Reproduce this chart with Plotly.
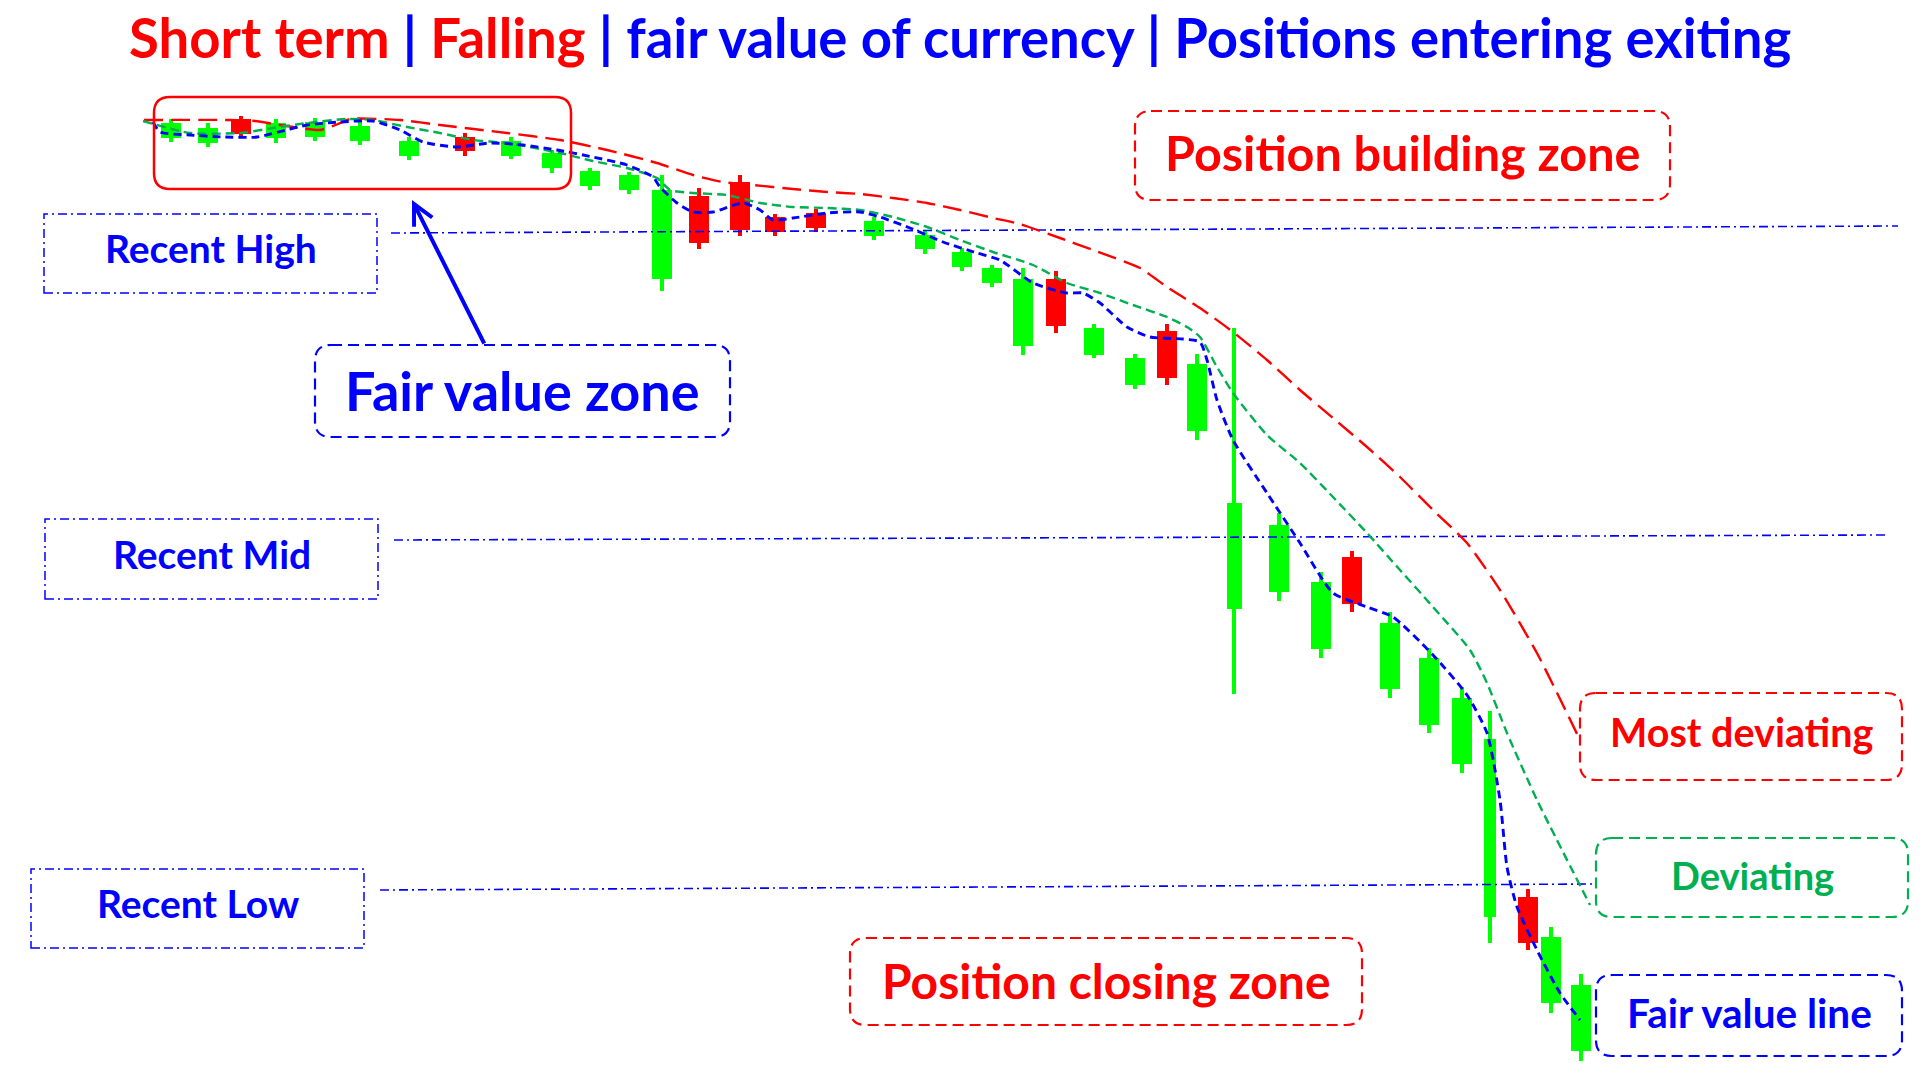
import plotly.graph_objects as go

# ---------------- data ----------------
# bar time positions and OHLC prices (arbitrary price units, higher = up)
t = [171, 208, 241, 276, 315, 360, 409, 465, 511, 552, 590, 629, 662, 699, 740, 775, 816, 874, 925,
     962, 992, 1023, 1056, 1094, 1135, 1167, 1197, 1234, 1279, 1321, 1352, 1390, 1429, 1462, 1490,
     1528, 1551, 1581]
open_ = [942, 937, 961, 942, 943, 939, 924, 943, 924, 912, 894, 890, 801, 884, 898, 863, 867, 844, 831,
         813, 797, 734, 801, 725, 695, 749, 649, 471, 488, 431, 523, 391, 355, 316, 163, 183, 77, 29]
high = [961, 957, 964, 961, 962, 958, 943, 947, 943, 930, 912, 908, 905, 892, 905, 866, 871, 863, 849,
        832, 815, 812, 809, 756, 726, 756, 726, 752, 567, 508, 529, 468, 432, 393, 369, 191, 153, 106]
low = [938, 933, 942, 937, 939, 935, 920, 924, 921, 907, 890, 886, 789, 831, 844, 844, 848, 840, 826,
       809, 793, 725, 747, 722, 691, 695, 640, 386, 479, 422, 468, 382, 347, 307, 137, 130, 67, 19]
close = [957, 952, 946, 957, 958, 954, 939, 929, 939, 927, 909, 905, 890, 837, 850, 848, 852, 859, 845,
         828, 812, 801, 754, 752, 722, 702, 716, 577, 555, 498, 476, 457, 422, 382, 341, 137, 143, 95]

# "Most deviating" average (red)
most_x = [144, 230, 255, 280, 300, 320, 338, 350, 400, 440, 507, 560, 607, 657, 693, 723, 753, 793, 827,
          860, 893, 927, 960, 993, 1020, 1060, 1093, 1140, 1167, 1200, 1233, 1267, 1300, 1333, 1367,
          1400, 1433, 1467, 1500, 1538, 1580]
most_y = [960, 960, 959, 955, 952, 950, 956, 961, 960, 955, 947, 940, 930, 917, 905, 898, 895, 891, 888,
          886, 882, 877, 870, 862, 856, 842, 830, 812, 793, 772, 748, 720, 690, 662, 633,
          603, 570, 537, 490, 425, 340]

# "Deviating" average (green)
dev_x = [143, 190, 240, 273, 307, 347, 373, 407, 440, 473, 507, 540, 560, 593, 627, 657, 670, 693, 727,
         760, 793, 827, 860, 893, 927, 960, 993, 1033, 1067, 1100, 1133, 1167, 1187, 1200, 1217, 1233,
         1267, 1300, 1333, 1367, 1400, 1433, 1470, 1487, 1507, 1537, 1590]
dev_y = [959, 947, 947, 952, 957, 961, 960, 953, 947, 940, 937, 931, 927, 919, 912, 902, 890, 887, 885,
         877, 873, 872, 870, 863, 853, 840, 828, 815, 797, 787, 775, 763, 753, 743, 713, 687,
         645, 617, 583, 547, 510, 473, 430, 397, 347, 280, 175]

# Fair value line (blue)
fair_x = [153, 160, 190, 223, 257, 290, 307, 340, 373, 400, 423, 457, 490, 523, 557, 593, 627, 653, 660,
          677, 693, 713, 743, 760, 773, 793, 827, 860, 880, 910, 943, 977, 1000, 1033, 1067, 1083, 1100,
          1127, 1150, 1183, 1200, 1207, 1217, 1233, 1267, 1300, 1333, 1367, 1393, 1433, 1467, 1487,
          1500, 1507, 1517, 1537, 1560, 1580]
fair_y = [958, 948, 945, 943, 943, 951, 955, 958, 959, 950, 938, 933, 937, 935, 930, 923, 915, 903, 893,
          877, 868, 868, 877, 870, 860, 862, 867, 868, 863, 852, 838, 827, 820, 797, 787, 787, 777,
          753, 743, 741, 738, 720, 680, 640, 587, 537, 487, 473, 463, 425, 385, 347,
          280, 213, 173, 130, 87, 60]

# Recent levels
high_x, high_y = [391, 1898], [847, 854]
mid_x, mid_y = [394, 1886], [540, 545]
low_x, low_y = [380, 1597], [190, 196]

# ---------------- styles ----------------
RED = "#FF0000"
LIME = "#00FF00"
GREEN = "#00B050"
BLUE = "#0000FF"
FONT = "Lato"

body_w = [20.0] * len(t)
body_w[27] = 15.0
body_w[34] = 12.5

inc = [c >= o for o, c in zip(open_, close)]
colors = [LIME if up else RED for up in inc]

fig = go.Figure()

# wicks
fig.add_trace(go.Bar(
    x=t, base=low, y=[h - l for h, l in zip(high, low)], width=3.5,
    marker=dict(color=colors, line=dict(width=0)), hoverinfo="skip"))
# bodies
fig.add_trace(go.Bar(
    x=t, base=[min(o, c) for o, c in zip(open_, close)],
    y=[abs(c - o) for o, c in zip(open_, close)], width=body_w,
    marker=dict(color=colors, line=dict(width=0)), hoverinfo="skip"))

# level lines
for lx, ly in [(high_x, high_y), (mid_x, mid_y), (low_x, low_y)]:
    fig.add_trace(go.Scatter(x=lx, y=ly, mode="lines",
                             line=dict(color=BLUE, width=1.6, dash="9px,4px,2px,4px"),
                             hoverinfo="skip"))

# averages
fig.add_trace(go.Scatter(x=most_x, y=most_y, mode="lines",
                         line=dict(color=RED, width=2.4, dash="19px,8px", shape="spline", smoothing=0.6),
                         hoverinfo="skip"))
fig.add_trace(go.Scatter(x=dev_x, y=dev_y, mode="lines",
                         line=dict(color=GREEN, width=2.4, dash="9px,5px", shape="spline", smoothing=0.6),
                         hoverinfo="skip"))
fig.add_trace(go.Scatter(x=fair_x, y=fair_y, mode="lines",
                         line=dict(color=BLUE, width=2.9, dash="8px,5px", shape="spline", smoothing=0.6),
                         hoverinfo="skip"))


def rounded(x0, y0, x1, y1, r):
    # y0 top (higher price), y1 bottom
    return (f"M{x0 + r},{y0} L{x1 - r},{y0} Q{x1},{y0} {x1},{y0 - r} "
            f"L{x1},{y1 + r} Q{x1},{y1} {x1 - r},{y1} L{x0 + r},{y1} "
            f"Q{x0},{y1} {x0},{y1 + r} L{x0},{y0 - r} Q{x0},{y0} {x0 + r},{y0} Z")


# labelled boxes: text, x0, x1, top, bottom, colour, dash, radius, font size, line width, text lift
boxes = [
    ("Recent High", 44, 377, 866, 787, BLUE, "9px,4px,2px,4px", 0, 39, 1.5, 6),
    ("Recent Mid", 45, 378, 561, 481, BLUE, "9px,4px,2px,4px", 0, 39, 1.5, 5),
    ("Recent Low", 31, 364, 211, 132, BLUE, "9px,4px,2px,4px", 0, 39, 1.5, 6),
    ("Fair value zone", 315, 730, 735, 643, BLUE, "11px,6px", 16, 54, 2.2, 1),
    ("Position building zone", 1135, 1670, 969, 880, RED, "11px,6px", 16, 48.5, 2.2, 3.5),
    ("Most deviating", 1580, 1902, 387, 300, RED, "11px,6px", 16, 39.5, 2.2, 5),
    ("Deviating", 1596, 1908, 242, 163, GREEN, "11px,6px", 16, 38, 2.2, 2.5),
    ("Fair value line", 1596, 1902, 105, 24, BLUE, "11px,6px", 16, 40.5, 2.2, 3.5),
    ("Position closing zone", 850, 1362, 142, 55, RED, "11px,6px", 16, 48, 2.2, 1),
]

shapes = []
annotations = []
for text, x0, x1, top, bot, col, dash, r, fs, lw, lift in boxes:
    if r:
        shapes.append(dict(type="path", path=rounded(x0, top, x1, bot, r), xref="x", yref="y",
                           line=dict(color=col, width=lw, dash=dash)))
    else:
        shapes.append(dict(type="rect", x0=x0, x1=x1, y0=bot, y1=top, xref="x", yref="y",
                           line=dict(color=col, width=lw, dash=dash)))
    annotations.append(dict(text=text, x=(x0 + x1) / 2, y=(top + bot) / 2 + lift, xref="x", yref="y",
                            showarrow=False, xanchor="center", yanchor="middle",
                            font=dict(family=FONT, size=fs, color=col, weight="bold")))

# red highlight around fair value zone
shapes.append(dict(type="path", path=rounded(154, 983, 571, 891, 16), xref="x", yref="y",
                   line=dict(color=RED, width=2.5)))

# arrow from the "Fair value zone" box to the highlighted zone
annotations.append(dict(text="", x=412, y=880, ax=485, ay=735, xref="x", yref="y",
                        axref="x", ayref="y", showarrow=True, arrowhead=5, arrowsize=1.0,
                        arrowwidth=4, arrowcolor=BLUE, standoff=0))

# title
title = (f"<span style='color:{RED}'>Short term</span>"
         f"<span style='color:{BLUE}'> | </span>"
         f"<span style='color:{RED}'>Falling</span>"
         f"<span style='color:{BLUE}'> | fair value of currency | Positions entering exiting</span>")
annotations.append(dict(text=title, x=0.5, y=1 - 37 / 1080, xref="paper", yref="paper",
                        showarrow=False, xanchor="center", yanchor="middle",
                        font=dict(family=FONT, size=54.5, weight="bold")))

fig.update_layout(
    width=1920, height=1080,
    margin=dict(l=0, r=0, t=0, b=0),
    paper_bgcolor="white", plot_bgcolor="white",
    showlegend=False, barmode="overlay", bargap=0,
    xaxis=dict(range=[0, 1920], visible=False, fixedrange=True),
    yaxis=dict(range=[0, 1080], visible=False, fixedrange=True),
    shapes=shapes, annotations=annotations,
)

fig.write_html("out.html", config={"displayModeBar": False},
               post_script="document.body.style.margin='0';document.body.style.overflow='hidden';")
